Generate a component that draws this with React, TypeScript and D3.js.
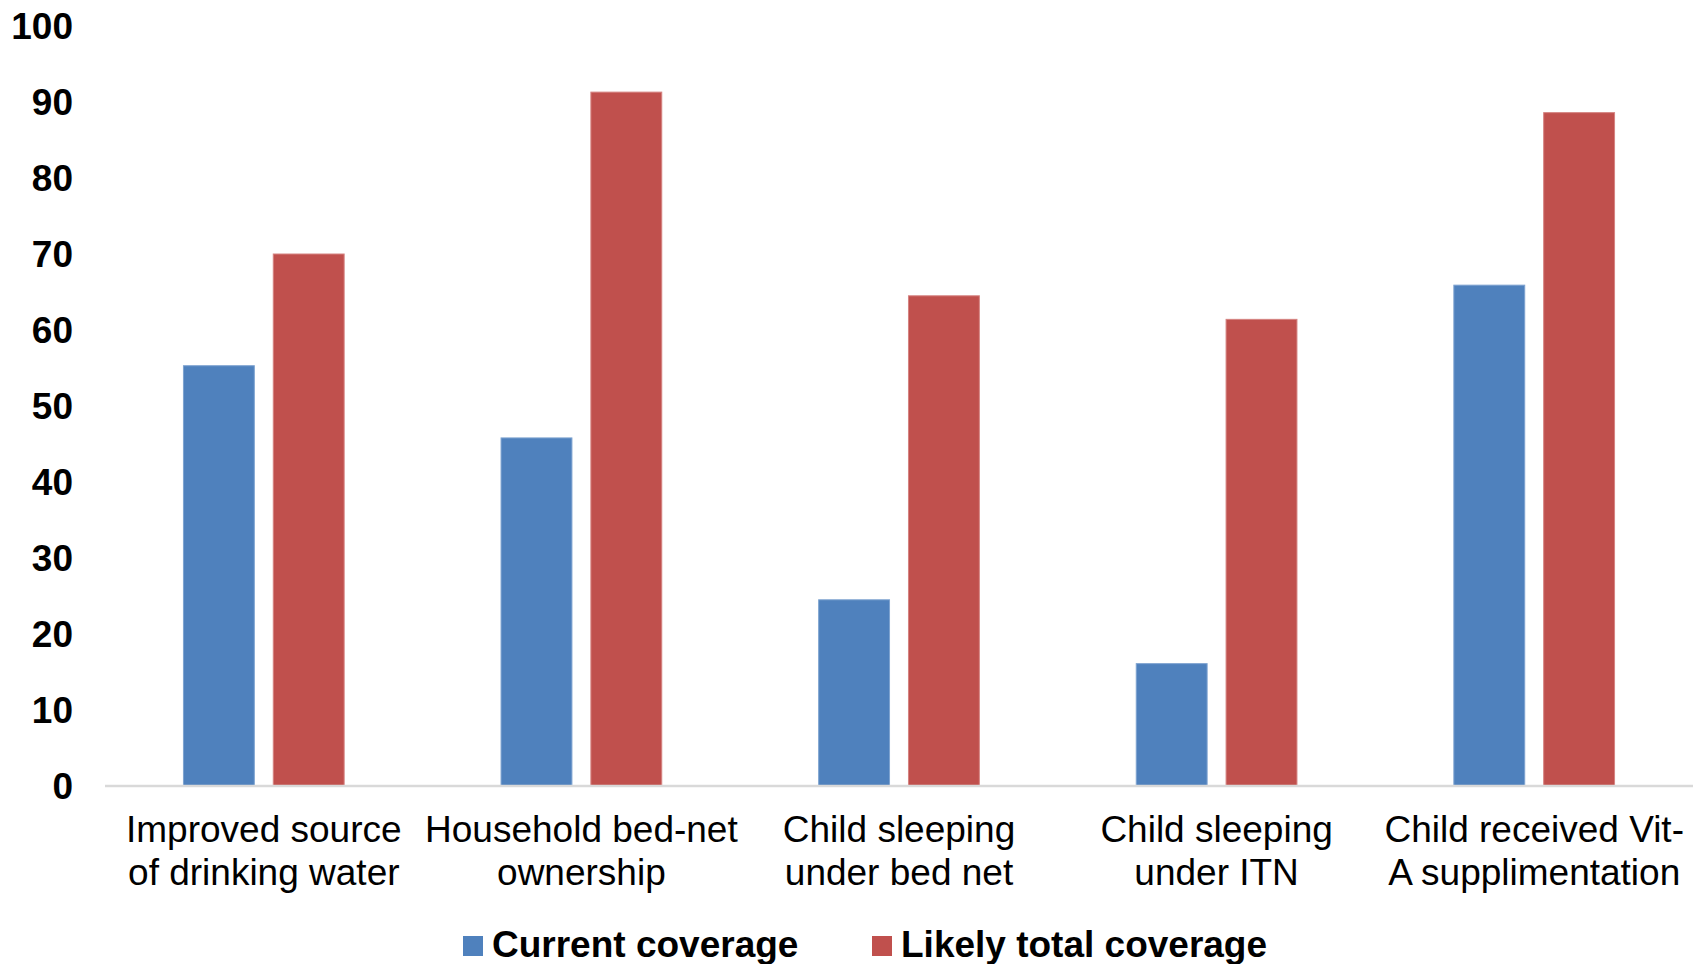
import React from "react";
import * as d3 from "d3";

const categories: string[][] = [
  ["Improved source", "of drinking water"],
  ["Household bed-net", "ownership"],
  ["Child sleeping", "under bed net"],
  ["Child sleeping", "under ITN"],
  ["Child received Vit-", "A supplimentation"],
];
const seriesNames = ["Current coverage", "Likely total coverage"];
const currentCoverage = [55.3, 45.8, 24.5, 16.1, 65.9];
const likelyTotalCoverage = [70.0, 91.3, 64.5, 61.4, 88.6];
const yTicks = [0, 10, 20, 30, 40, 50, 60, 70, 80, 90, 100];
const colors = ["#4F81BD", "#C0504D"];
const edgeColors = ["#7EA3D0", "#D58381"];

const W = 1696;
const H = 964;
const FONT = "'Liberation Sans', Arial, Helvetica, sans-serif";

export default function App() {
  const left = 105;
  const right = 1693;
  const y = d3.scaleLinear().domain([0, 100]).range([786, 26]);
  const x0 = d3
    .scaleBand<number>()
    .domain(categories.map((_, i) => i))
    .range([left, right])
    .padding(0);
  const bw = x0.bandwidth();
  const x1 = d3
    .scaleBand<number>()
    .domain([0, 1])
    .range([bw * 0.247, bw * 0.753])
    .paddingInner(0.211)
    .paddingOuter(0);
  const data = [currentCoverage, likelyTotalCoverage];

  const legendItems = [
    { sq: 463, tx: 492 },
    { sq: 872, tx: 901 },
  ];

  return (
    <svg
      width={W}
      height={H}
      style={{ position: "absolute", left: 0, top: 0, background: "#fff", overflow: "hidden" }}
      fontFamily={FONT}
    >
      <rect x={0} y={0} width={W} height={H} fill="#fff" />
      {/* y tick labels */}
      {yTicks.map((t) => (
        <text
          key={t}
          x={73}
          y={y(t)}
          dy="0.36em"
          textAnchor="end"
          fontSize={37}
          fontWeight="bold"
          fill="#000"
        >
          {t}
        </text>
      ))}
      {/* bars */}
      {categories.map((_, i) =>
        data.map((s, j) => {
          const bx = (x0(i) as number) + (x1(j) as number);
          const by = y(s[i]);
          return (
            <rect
              key={`${i}-${j}`}
              x={bx}
              y={by}
              width={x1.bandwidth()}
              height={y(0) - by}
              fill={colors[j]}
              stroke={edgeColors[j]}
              strokeWidth={1}
            />
          );
        })
      )}
      {/* x axis line */}
      <line x1={left} x2={right} y1={y(0)} y2={y(0)} stroke="#D9D9D9" strokeWidth={2.5} />
      {/* category labels */}
      {categories.map((lines, i) => {
        const cx = (x0(i) as number) + bw / 2;
        return (
          <text key={i} textAnchor="middle" fontSize={37} fill="#000">
            {lines.map((ln, k) => (
              <tspan key={k} x={cx} y={842 + k * 43}>
                {ln}
              </tspan>
            ))}
          </text>
        );
      })}
      {/* legend */}
      {seriesNames.map((name, j) => (
        <g key={name}>
          <rect x={legendItems[j].sq} y={936} width={20} height={20} fill={colors[j]} />
          <text x={legendItems[j].tx} y={957} fontSize={37} fontWeight="bold" fill="#000">
            {name}
          </text>
        </g>
      ))}
    </svg>
  );
}
